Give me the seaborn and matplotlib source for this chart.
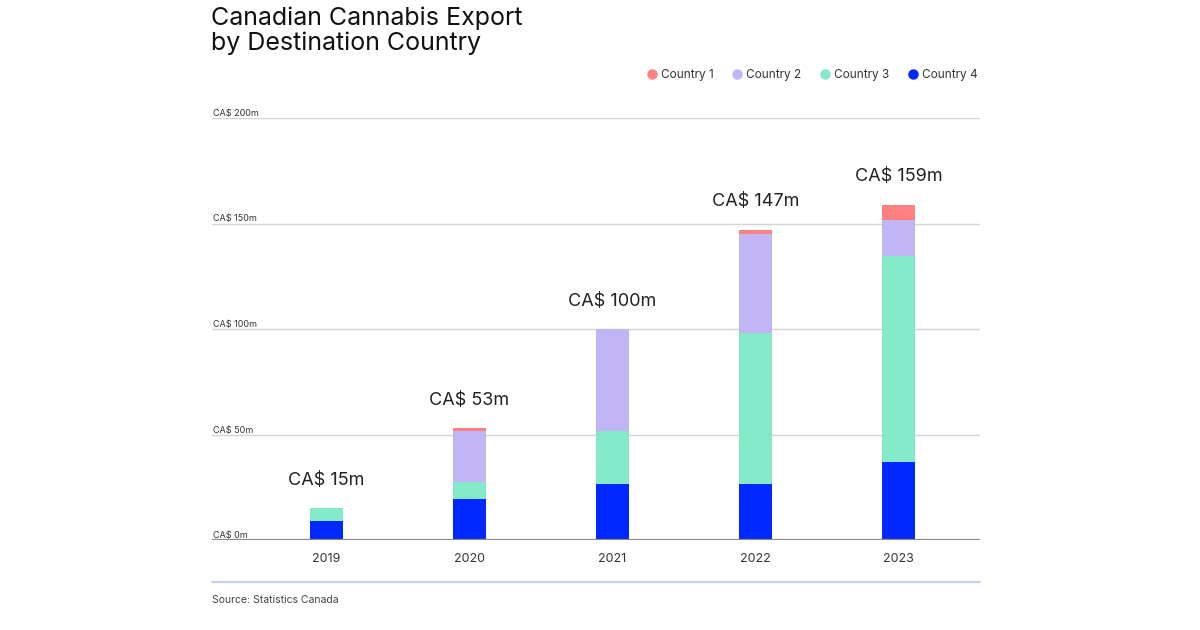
import pandas as pd
import seaborn as sns
import matplotlib.pyplot as plt
from matplotlib.lines import Line2D

# Data (CA$ millions)
years = ["2019", "2020", "2021", "2022", "2023"]
country_4 = [9, 19.5, 26.5, 26.5, 37]
country_3 = [6, 8, 25, 71.5, 97.5]
country_2 = [0, 24, 48.5, 47, 17]
country_1 = [0, 1.5, 0, 2, 7.5]
totals = [15, 53, 100, 147, 159]
y_ticks = [0, 50, 100, 150, 200]
y_tick_labels = ["CA$ 0m", "CA$ 50m", "CA$ 100m", "CA$ 150m", "CA$ 200m"]

series = ["Country 1", "Country 2", "Country 3", "Country 4"]
colors = {"Country 1": "#ff8080", "Country 2": "#c1b5f5",
          "Country 3": "#83e9c8", "Country 4": "#0028ff"}

df = pd.DataFrame({"year": years, "Country 4": country_4, "Country 3": country_3,
                   "Country 2": country_2, "Country 1": country_1})
# cumulative heights, bottom (Country 4) to top (Country 1)
stack = ["Country 4", "Country 3", "Country 2", "Country 1"]
cum = df[stack].cumsum(axis=1)

sns.set_theme(style="white")
plt.rcParams['font.family'] = ['Inter', 'DejaVu Sans']

fig = plt.figure(figsize=(12, 6.3), dpi=100)
ax = fig.add_axes([212 / 1200, 1 - 540 / 630, 768 / 1200, 422 / 630])

# draw tallest layer first so lower layers cover it
for name in reversed(stack):
    sns.barplot(x=df["year"], y=cum[name], color=colors[name], width=0.23,
                saturation=1, linewidth=0, ax=ax, zorder=3)

ax.set_ylim(0, 200)
ax.set_xlim(-0.8, 4.57)
ax.set_yticks(y_ticks)
ax.set_yticklabels(y_tick_labels)
for lab in ax.get_yticklabels():
    lab.set_ha("left")
    lab.set_va("bottom")
ax.tick_params(axis="y", length=0, pad=-1, labelsize=6.5, labelcolor="#333333")
ax.tick_params(axis="x", length=0, pad=9, labelsize=9, labelcolor="#333333")
ax.grid(axis="y", color="#d4d4d4", linewidth=1, zorder=0)
ax.axhline(0, color="#8a8a8a", linewidth=1.6, zorder=4)
ax.set_xlabel("")
ax.set_ylabel("")
for s in ax.spines.values():
    s.set_visible(False)

for i, t in enumerate(totals):
    ax.annotate(f"CA$ {t}m", (i, t), xytext=(0, 14), textcoords="offset points",
                ha="center", va="bottom", fontsize=13, color="#222222")

fig.text(211 / 1200, 1 - 7 / 630, "Canadian Cannabis Export\nby Destination Country",
         ha="left", va="top", fontsize=18, color="#111111", linespacing=1.05)

handles = [Line2D([], [], marker="o", linestyle="", markersize=6.5,
                  markerfacecolor=colors[n], markeredgecolor=colors[n]) for n in series]
fig.legend(handles, series, loc="center right", bbox_to_anchor=(988 / 1200, 1 - 75 / 630),
           ncol=4, frameon=False, fontsize=8.5, handletextpad=0.15, columnspacing=1.4,
           handlelength=1.2, labelcolor="#333333")

fig.add_artist(Line2D([212 / 1200, 980 / 1200], [1 - 582 / 630, 1 - 582 / 630],
                      color="#c9cdf7", linewidth=1.6))
fig.text(212 / 1200, 1 - 600 / 630, "Source: Statistics Canada", ha="left", va="center",
         fontsize=7.5, color="#444444")

fig.savefig("out.png", dpi=100)
